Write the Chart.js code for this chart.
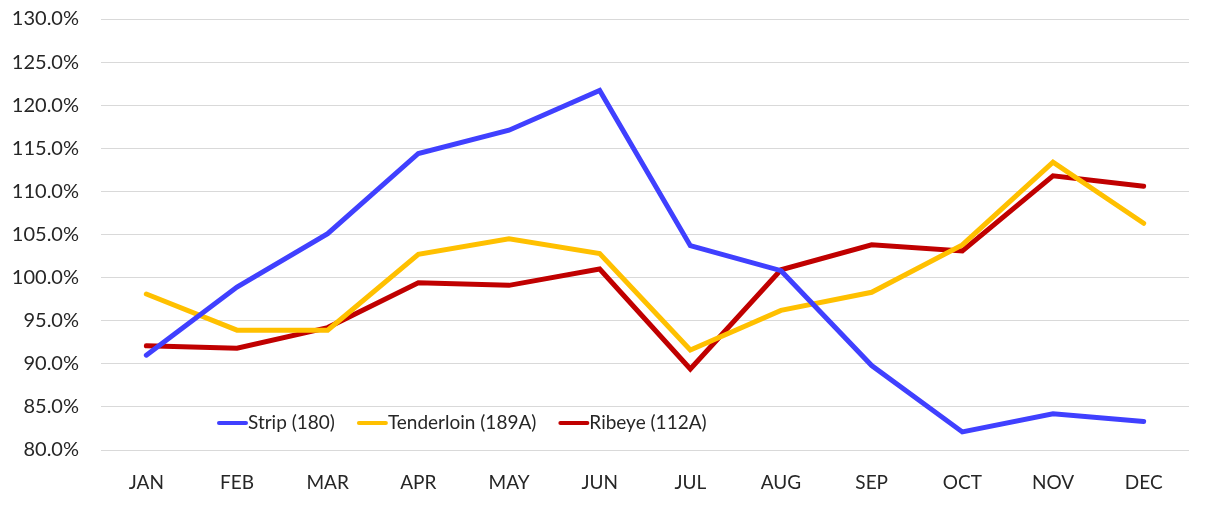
<!DOCTYPE html>
<html>
<head>
<meta charset="utf-8">
<script src="https://cdn.jsdelivr.net/npm/chart.js@4.4.1/dist/chart.umd.min.js"></script>
<style>
  html, body { margin: 0; padding: 0; background: #ffffff; }
  #wrap { position: relative; width: 1205px; height: 521px; }
</style>
</head>
<body>
<div id="wrap"><canvas id="c" width="1205" height="521"></canvas></div>
<script>
const months = ['JAN','FEB','MAR','APR','MAY','JUN','JUL','AUG','SEP','OCT','NOV','DEC'];
const stripValues      = [91.0, 98.9, 105.1, 114.4, 117.1, 121.7, 103.7, 100.8, 89.8, 82.1, 84.2, 83.3];
const tenderloinValues = [98.1, 93.9, 93.9, 102.7, 104.5, 102.8, 91.6, 96.2, 98.3, 103.8, 113.4, 106.3];
const ribeyeValues     = [92.1, 91.8, 94.2, 99.4, 99.1, 101.0, 89.4, 100.9, 103.8, 103.1, 111.8, 110.6];
const seriesNames = ['Strip (180)', 'Tenderloin (189A)', 'Ribeye (112A)'];
const seriesColors = ['#4040FF', '#FFC000', '#C00000'];
const yTicks = { min: 80, max: 130, step: 5 };

const FONT = 'Lato, "Open Sans", sans-serif';

const legendPlugin = {
  id: 'innerLegend',
  afterDraw(chart) {
    const ctx = chart.ctx;
    ctx.save();
    ctx.font = '19px ' + FONT;
    ctx.textBaseline = 'middle';
    let x = 219;
    const y = 423;
    chart.data.datasets.forEach((ds) => {
      ctx.strokeStyle = ds.borderColor;
      ctx.lineWidth = 4;
      ctx.lineCap = 'round';
      ctx.beginPath();
      ctx.moveTo(x, y);
      ctx.lineTo(x + 27, y);
      ctx.stroke();
      ctx.fillStyle = '#262626';
      ctx.fillText(ds.label, x + 29, y);
      x += 29 + ctx.measureText(ds.label).width + 24;
    });
    ctx.restore();
  }
};

const datasets = [stripValues, tenderloinValues, ribeyeValues].map((vals, i) => ({
  label: seriesNames[i],
  data: vals,
  borderColor: seriesColors[i],
  backgroundColor: seriesColors[i],
  borderWidth: 5,
  pointRadius: 0,
  tension: 0,
  borderCapStyle: 'round',
  borderJoinStyle: 'miter'
}));

new Chart(document.getElementById('c'), {
  type: 'line',
  data: { labels: months, datasets: datasets },
  options: {
    responsive: false,
    animation: false,
    layout: { padding: { top: 19, right: 16, left: 0, bottom: 0 } },
    plugins: { legend: { display: false }, tooltip: { enabled: false } },
    scales: {
      x: {
        offset: true,
        grid: { display: false, drawTicks: false, offset: true },
        border: { display: false },
        ticks: { color: '#262626', font: { family: FONT, size: 19 }, padding: 21, maxRotation: 0 },
        afterFit(scale) { scale.height = 71; scale.paddingLeft = 0; scale.paddingRight = 0; }
      },
      y: {
        min: yTicks.min,
        max: yTicks.max,
        grid: { color: '#d9d9d9', lineWidth: 1, drawTicks: false },
        border: { display: false },
        ticks: {
          stepSize: yTicks.step,
          color: '#262626',
          font: { family: FONT, size: 20 },
          padding: 22,
          callback: (v) => v.toFixed(1) + '%'
        },
        afterFit(scale) { scale.width = 101; scale.paddingTop = 0; scale.paddingBottom = 0; }
      }
    }
  },
  plugins: [legendPlugin]
});
</script>
</body>
</html>
